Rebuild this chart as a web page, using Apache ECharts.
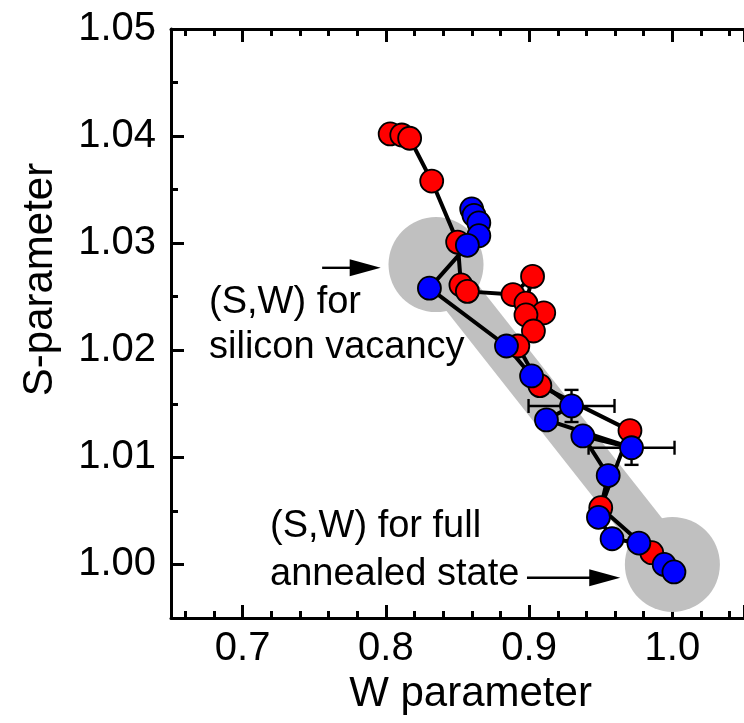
<!DOCTYPE html>
<html>
<head>
<meta charset="utf-8">
<script src="https://cdn.jsdelivr.net/npm/echarts@6/dist/echarts.min.js"></script>
<style>
  html, body { margin: 0; padding: 0; background: #fff; }
  #chart { width: 744px; height: 723px; }
</style>
</head>
<body>
<div id="chart"></div>
<script>
// Annealing path of the (S,W) positron parameters, two sample sets
const redW = [0.8030, 0.8111, 0.8166, 0.8320, 0.8501, 0.8524, 0.8569, 0.8887, 0.9024, 0.8978,
              0.9102, 0.8978, 0.9030, 0.8921, 0.9075, 0.9704, 0.9500, 0.9856];
const redS = [1.0402, 1.0401, 1.0398, 1.0358, 1.0301, 1.0261, 1.0255, 1.0252, 1.0269, 1.0244,
              1.0235, 1.0233, 1.0218, 1.0204, 1.0167, 1.0125, 1.0053, 1.0011];

const blueW = [0.8599, 0.8615, 0.8649, 0.8649, 0.8569, 0.8304, 0.8842, 0.9017, 0.9296, 0.9121,
               0.9715, 0.9375, 0.9552, 0.9484, 0.9579, 0.9766, 0.9943, 1.0011];
const blueS = [1.0332, 1.0326, 1.0319, 1.0307, 1.0298, 1.0258, 1.0204, 1.0176, 1.0148, 1.0135,
               1.0109, 1.0120, 1.0083, 1.0044, 1.0024, 1.0020, 1.0000, 0.9993];

// error bars: centre W, centre S, half-width in W, half-height in S
const errW  = [0.9296, 0.9715];
const errS  = [1.0148, 1.0109];
const errDW = [0.030, 0.030];
const errDS = [0.0015, 0.0016];

// reference states: silicon vacancy and fully annealed
const refW = [0.835, 1.000];
const refS = [1.028, 1.000];

const xMin = 0.65, xMax = 1.05;
const yMin = 0.995, yMax = 1.05;

const FONT = 'Liberation Sans, Arial, Helvetica, sans-serif';
const zip = (a, b) => a.map((v, i) => [v, b[i]]);

const chart = echarts.init(document.getElementById('chart'), null, { renderer: 'canvas' });

const axisLineStyle = { color: '#000', width: 3 };
const isMultiple = (v, step) => Math.abs(v / step - Math.round(v / step)) < 1e-6;

const xAxisBase = {
  type: 'value', min: xMin, max: xMax,
  splitLine: { show: false },
  axisLine: { show: true, onZero: false, lineStyle: axisLineStyle },
  axisTick: { show: true, inside: true, length: 13, lineStyle: axisLineStyle },
  minorTick: { show: true, splitNumber: 5, length: 7, lineStyle: axisLineStyle },
  minorSplitLine: { show: false }
};

const option = {
  animation: false,
  backgroundColor: '#fff',
  grid: { left: 171, top: 29, width: 588, height: 589, containLabel: false },
  xAxis: [
    Object.assign({}, xAxisBase, {
      position: 'bottom',
      name: 'W parameter',
      nameLocation: 'middle',
      nameGap: 48,
      nameTextStyle: { fontFamily: FONT, fontSize: 42, color: '#000', padding: [0, 0, 0, 26] },
      axisLabel: {
        show: true, margin: 11, color: '#000', fontFamily: FONT, fontSize: 40,
        showMinLabel: false, showMaxLabel: false,
        formatter: v => isMultiple(v, 0.1) && v > xMin && v < xMax ? v.toFixed(1) : ''
      }
    }),
    Object.assign({}, xAxisBase, {
      position: 'top',
      axisLabel: { show: false }
    })
  ],
  yAxis: [{
    type: 'value', min: yMin, max: yMax,
    splitLine: { show: false },
    axisLine: { show: true, onZero: false, lineStyle: axisLineStyle },
    axisTick: { show: true, inside: true, length: 13, lineStyle: axisLineStyle },
    minorTick: { show: true, splitNumber: 2, length: 7, lineStyle: axisLineStyle },
    minorSplitLine: { show: false },
    name: 'S-parameter',
    nameLocation: 'middle',
    nameGap: 110,
    nameTextStyle: { fontFamily: FONT, fontSize: 42, color: '#000', padding: [0, 0, 0, 88] },
    axisLabel: {
      show: true, margin: 15, color: '#000', fontFamily: FONT, fontSize: 40,
      showMinLabel: false,
      formatter: v => isMultiple(v, 0.01) && v > yMin ? v.toFixed(2) : ''
    }
  }],
  series: [
    {
      // grey band joining the two reference states
      type: 'line', z: 1, silent: true,
      data: zip(refW, refS),
      symbol: 'circle', symbolSize: 95, showSymbol: true,
      itemStyle: { color: '#c0c0c0', borderWidth: 0 },
      lineStyle: { color: '#c0c0c0', width: 41 }
    },
    {
      type: 'custom', z: 2, silent: true,
      data: errW.map((w, i) => [w, errS[i], errDW[i], errDS[i]]),
      encode: { x: 0, y: 1 },
      renderItem: (params, api) => {
        const w = api.value(0), s = api.value(1), dw = api.value(2), ds = api.value(3);
        const l = api.coord([w - dw, s]), r = api.coord([w + dw, s]);
        const t = api.coord([w, s + ds]), b = api.coord([w, s - ds]);
        const cap = 7;
        const style = { stroke: '#000', lineWidth: 2.4 };
        const seg = (x1, y1, x2, y2) => ({ type: 'line', shape: { x1, y1, x2, y2 }, style });
        return {
          type: 'group',
          children: [
            seg(l[0], l[1], r[0], r[1]),
            seg(l[0], l[1] - cap, l[0], l[1] + cap),
            seg(r[0], r[1] - cap, r[0], r[1] + cap),
            seg(t[0], t[1], b[0], b[1]),
            seg(t[0] - cap, t[1], t[0] + cap, t[1]),
            seg(b[0] - cap, b[1], b[0] + cap, b[1])
          ]
        };
      }
    },
    {
      type: 'line', z: 3, silent: true, symbol: 'none',
      data: zip(redW, redS),
      lineStyle: { color: '#000', width: 4 }
    },
    {
      type: 'line', z: 3, silent: true, symbol: 'none',
      data: zip(blueW, blueS),
      lineStyle: { color: '#000', width: 4 }
    },
    {
      type: 'scatter', z: 4,
      data: zip(redW, redS),
      symbol: 'circle', symbolSize: 23,
      itemStyle: { color: '#ff0000', borderColor: '#000', borderWidth: 1.8, opacity: 1 }
    },
    {
      type: 'scatter', z: 5,
      data: zip(blueW, blueS),
      symbol: 'circle', symbolSize: 23,
      itemStyle: { color: '#0000ff', borderColor: '#000', borderWidth: 1.8, opacity: 1 }
    }
  ]
};

chart.setOption(option);

// annotation arrows, anchored in data coordinates
const arrows = [
  { from: [0.7555, 1.0277], to: [0.7964, 1.0277] },
  { from: [0.8985, 0.99876], to: [0.9636, 0.99876] }
];
const graphics = [];
arrows.forEach(a => {
  const p0 = chart.convertToPixel({ gridIndex: 0 }, a.from);
  const p1 = chart.convertToPixel({ gridIndex: 0 }, a.to);
  const headLen = 31, headHalf = 8.5;
  graphics.push({
    type: 'line', z: 10,
    shape: { x1: p0[0], y1: p0[1], x2: p1[0] - headLen + 2, y2: p1[1] },
    style: { stroke: '#000', lineWidth: 2.4 }
  });
  graphics.push({
    type: 'polygon', z: 10,
    shape: { points: [[p1[0], p1[1]], [p1[0] - headLen, p1[1] - headHalf], [p1[0] - headLen, p1[1] + headHalf]] },
    style: { fill: '#000' }
  });
});

const noteStyle = { fontFamily: FONT, fontSize: 38, fill: '#000', textVerticalAlign: 'middle', textAlign: 'left' };
[
  ['(S,W) for', 209, 303],
  ['silicon vacancy', 209, 348],
  ['(S,W) for full', 270, 527],
  ['annealed state', 270, 575]
].forEach(([text, x, y]) => {
  graphics.push({ type: 'text', z: 10, x, y, style: Object.assign({ text }, noteStyle) });
});

chart.setOption({ graphic: graphics });
</script>
</body>
</html>
